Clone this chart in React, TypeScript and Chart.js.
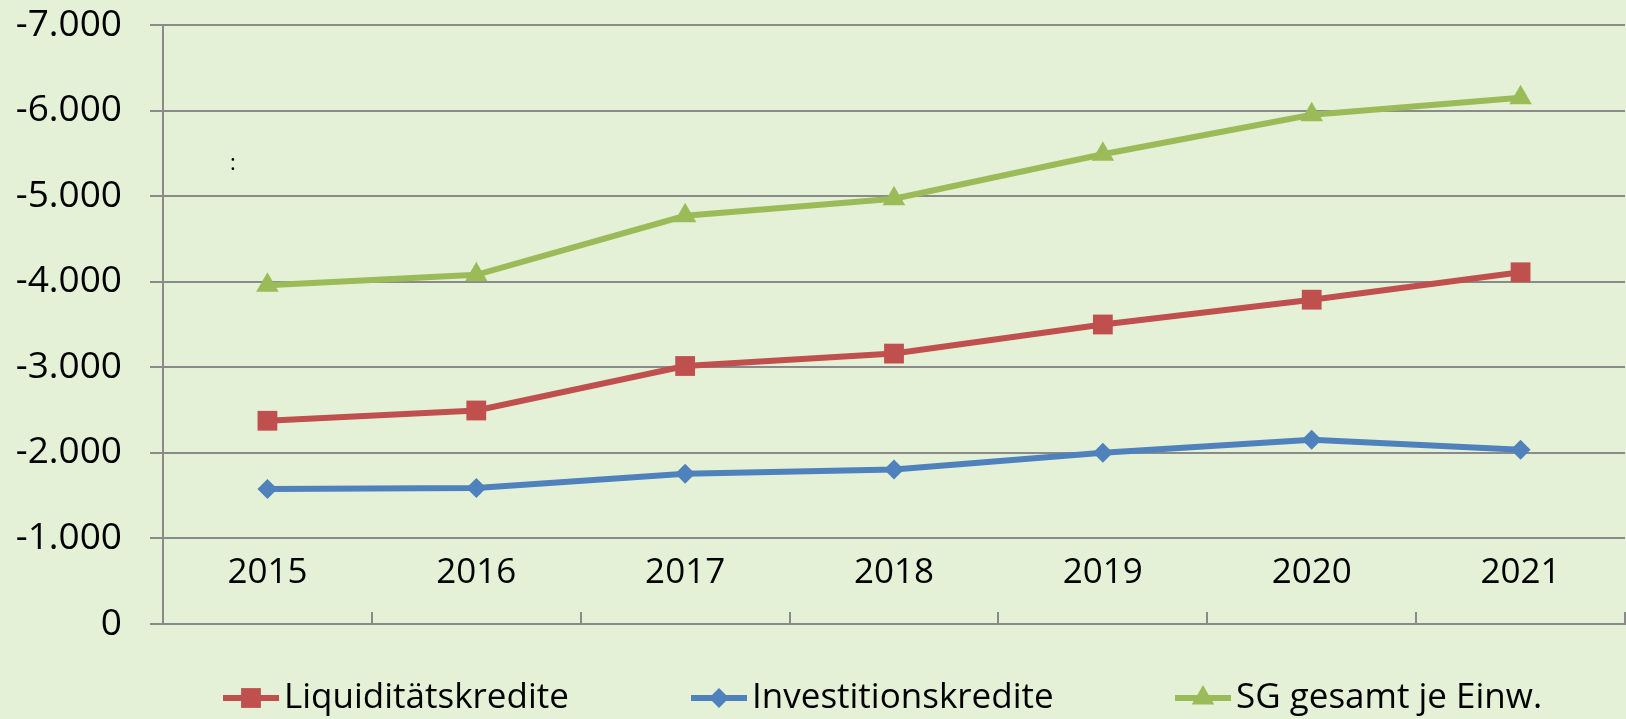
import React, { useEffect, useRef } from 'react';
import { Chart, registerables } from 'chart.js';

Chart.register(...registerables);

const years = ['2015', '2016', '2017', '2018', '2019', '2020', '2021'];
const liquiditaetskredite = [-2375, -2495, -3015, -3160, -3500, -3790, -4110];
const investitionskredite = [-1577, -1590, -1757, -1805, -2000, -2153, -2036];
const sgGesamtJeEinw = [-3960, -4080, -4770, -4970, -5490, -5950, -6150];
const yTickValues = [0, -1000, -2000, -3000, -4000, -5000, -6000, -7000];
const seriesNames = ['Liquiditätskredite', 'Investitionskredite', 'SG gesamt je Einw.'];
const seriesColors = ['#C0504D', '#4F81BD', '#9BBB59'];
const seriesMarkers = ['rect', 'rectRot', 'triangle'];
const seriesRadii = [14, 10, 13];

const BG = '#E4F1D6';
const GRID = '#8A8A8A';
const FONT = '"Open Sans", sans-serif';

function fmt(v: number): string {
  const a = Math.abs(v);
  const s = a >= 1000 ? Math.floor(a / 1000) + '.' + String(a % 1000).padStart(3, '0') : String(a);
  return (v < 0 ? '-' : '') + s;
}

const bgPlugin = {
  id: 'bgFill',
  beforeDraw(chart: any) {
    const ctx = chart.ctx;
    ctx.save();
    ctx.fillStyle = BG;
    ctx.fillRect(0, 0, chart.width, chart.height);
    ctx.restore();
  },
};

const legendStarts = [223, 691, 1175];
const LEGEND_Y = 698;

function drawMarker(ctx: CanvasRenderingContext2D, style: string, r: number, x: number, y: number, color: string) {
  ctx.save();
  ctx.fillStyle = color;
  ctx.beginPath();
  if (style === 'rect') {
    const s = Math.SQRT1_2 * r;
    ctx.rect(x - s, y - s, 2 * s, 2 * s);
  } else if (style === 'rectRot') {
    ctx.moveTo(x, y - r);
    ctx.lineTo(x + r, y);
    ctx.lineTo(x, y + r);
    ctx.lineTo(x - r, y);
    ctx.closePath();
  } else {
    ctx.moveTo(x, y - r);
    ctx.lineTo(x + Math.sin((Math.PI * 2) / 3) * r, y + 0.5 * r);
    ctx.lineTo(x - Math.sin((Math.PI * 2) / 3) * r, y + 0.5 * r);
    ctx.closePath();
  }
  ctx.fill();
  ctx.restore();
}

const customLegend = {
  id: 'customLegend',
  afterDraw(chart: any) {
    const ctx = chart.ctx;
    ctx.save();
    seriesNames.forEach((name, i) => {
      const x0 = legendStarts[i];
      const lineLen = 56;
      ctx.strokeStyle = seriesColors[i];
      ctx.lineWidth = 6;
      ctx.beginPath();
      ctx.moveTo(x0, LEGEND_Y);
      ctx.lineTo(x0 + lineLen, LEGEND_Y);
      ctx.stroke();
      drawMarker(ctx, seriesMarkers[i], seriesRadii[i], x0 + lineLen / 2, LEGEND_Y, seriesColors[i]);
      ctx.fillStyle = '#000';
      ctx.font = `35px ${FONT}`;
      ctx.textAlign = 'left';
      ctx.textBaseline = 'middle';
      ctx.fillText(name, x0 + lineLen + 5, LEGEND_Y);
    });
    ctx.font = `22px ${FONT}`;
    ctx.fillStyle = '#000';
    ctx.textAlign = 'center';
    ctx.textBaseline = 'middle';
    ctx.fillText(':', 233, 164);
    ctx.restore();
  },
};

export default function App() {
  const ref = useRef<HTMLCanvasElement | null>(null);
  useEffect(() => {
    document.body.style.margin = '0';
    document.body.style.background = BG;
    if (!ref.current) return;
    const values = [liquiditaetskredite, investitionskredite, sgGesamtJeEinw];
    const chart = new Chart(ref.current, {
      type: 'line',
      data: {
        labels: years,
        datasets: seriesNames.map((name, i) => ({
          label: name,
          data: values[i],
          borderColor: seriesColors[i],
          backgroundColor: seriesColors[i],
          borderWidth: 6,
          pointStyle: seriesMarkers[i] as any,
          pointRadius: seriesRadii[i],
          pointBorderWidth: 0,
          pointBackgroundColor: seriesColors[i],
          tension: 0,
          fill: false,
        })),
      },
      options: {
        responsive: false,
        animation: false,
        devicePixelRatio: 1,
        layout: { autoPadding: false, padding: { top: 25, right: 1, left: 0, bottom: 0 } },
        plugins: {
          legend: { display: false },
          tooltip: { enabled: false },
        },
        scales: {
          x: {
            offset: true,
            grid: {
              offset: true,
              drawOnChartArea: false,
              drawTicks: true,
              tickLength: -12,
              color: GRID,
              lineWidth: 2,
            },
            border: { display: true, color: GRID, width: 2 },
            ticks: {
              mirror: true,
              padding: 30,
              color: '#000',
              font: { family: FONT, size: 35 },
              maxRotation: 0,
              autoSkip: false,
            },
            afterFit: (s: any) => {
              s.height = 95;
              s.paddingLeft = 0;
              s.paddingRight = 0;
            },
          },
          y: {
            reverse: true,
            min: -7000,
            max: 0,
            afterBuildTicks: (s: any) => {
              s.ticks = yTickValues.map((v) => ({ value: v }));
            },
            ticks: {
              callback: (v: any) => fmt(Number(v)),
              color: '#000',
              font: { family: FONT, size: 37 },
              padding: 28,
            },
            grid: { color: GRID, lineWidth: 2, tickLength: 13, drawTicks: true },
            border: { display: true, color: GRID, width: 2 },
            afterFit: (s: any) => {
              s.width = 163;
              s.paddingTop = 0;
              s.paddingBottom = 0;
            },
          },
        },
      },
      plugins: [bgPlugin, customLegend],
    });
    return () => chart.destroy();
  }, []);
  return <canvas ref={ref} width={1626} height={719} style={{ display: 'block' }} />;
}
